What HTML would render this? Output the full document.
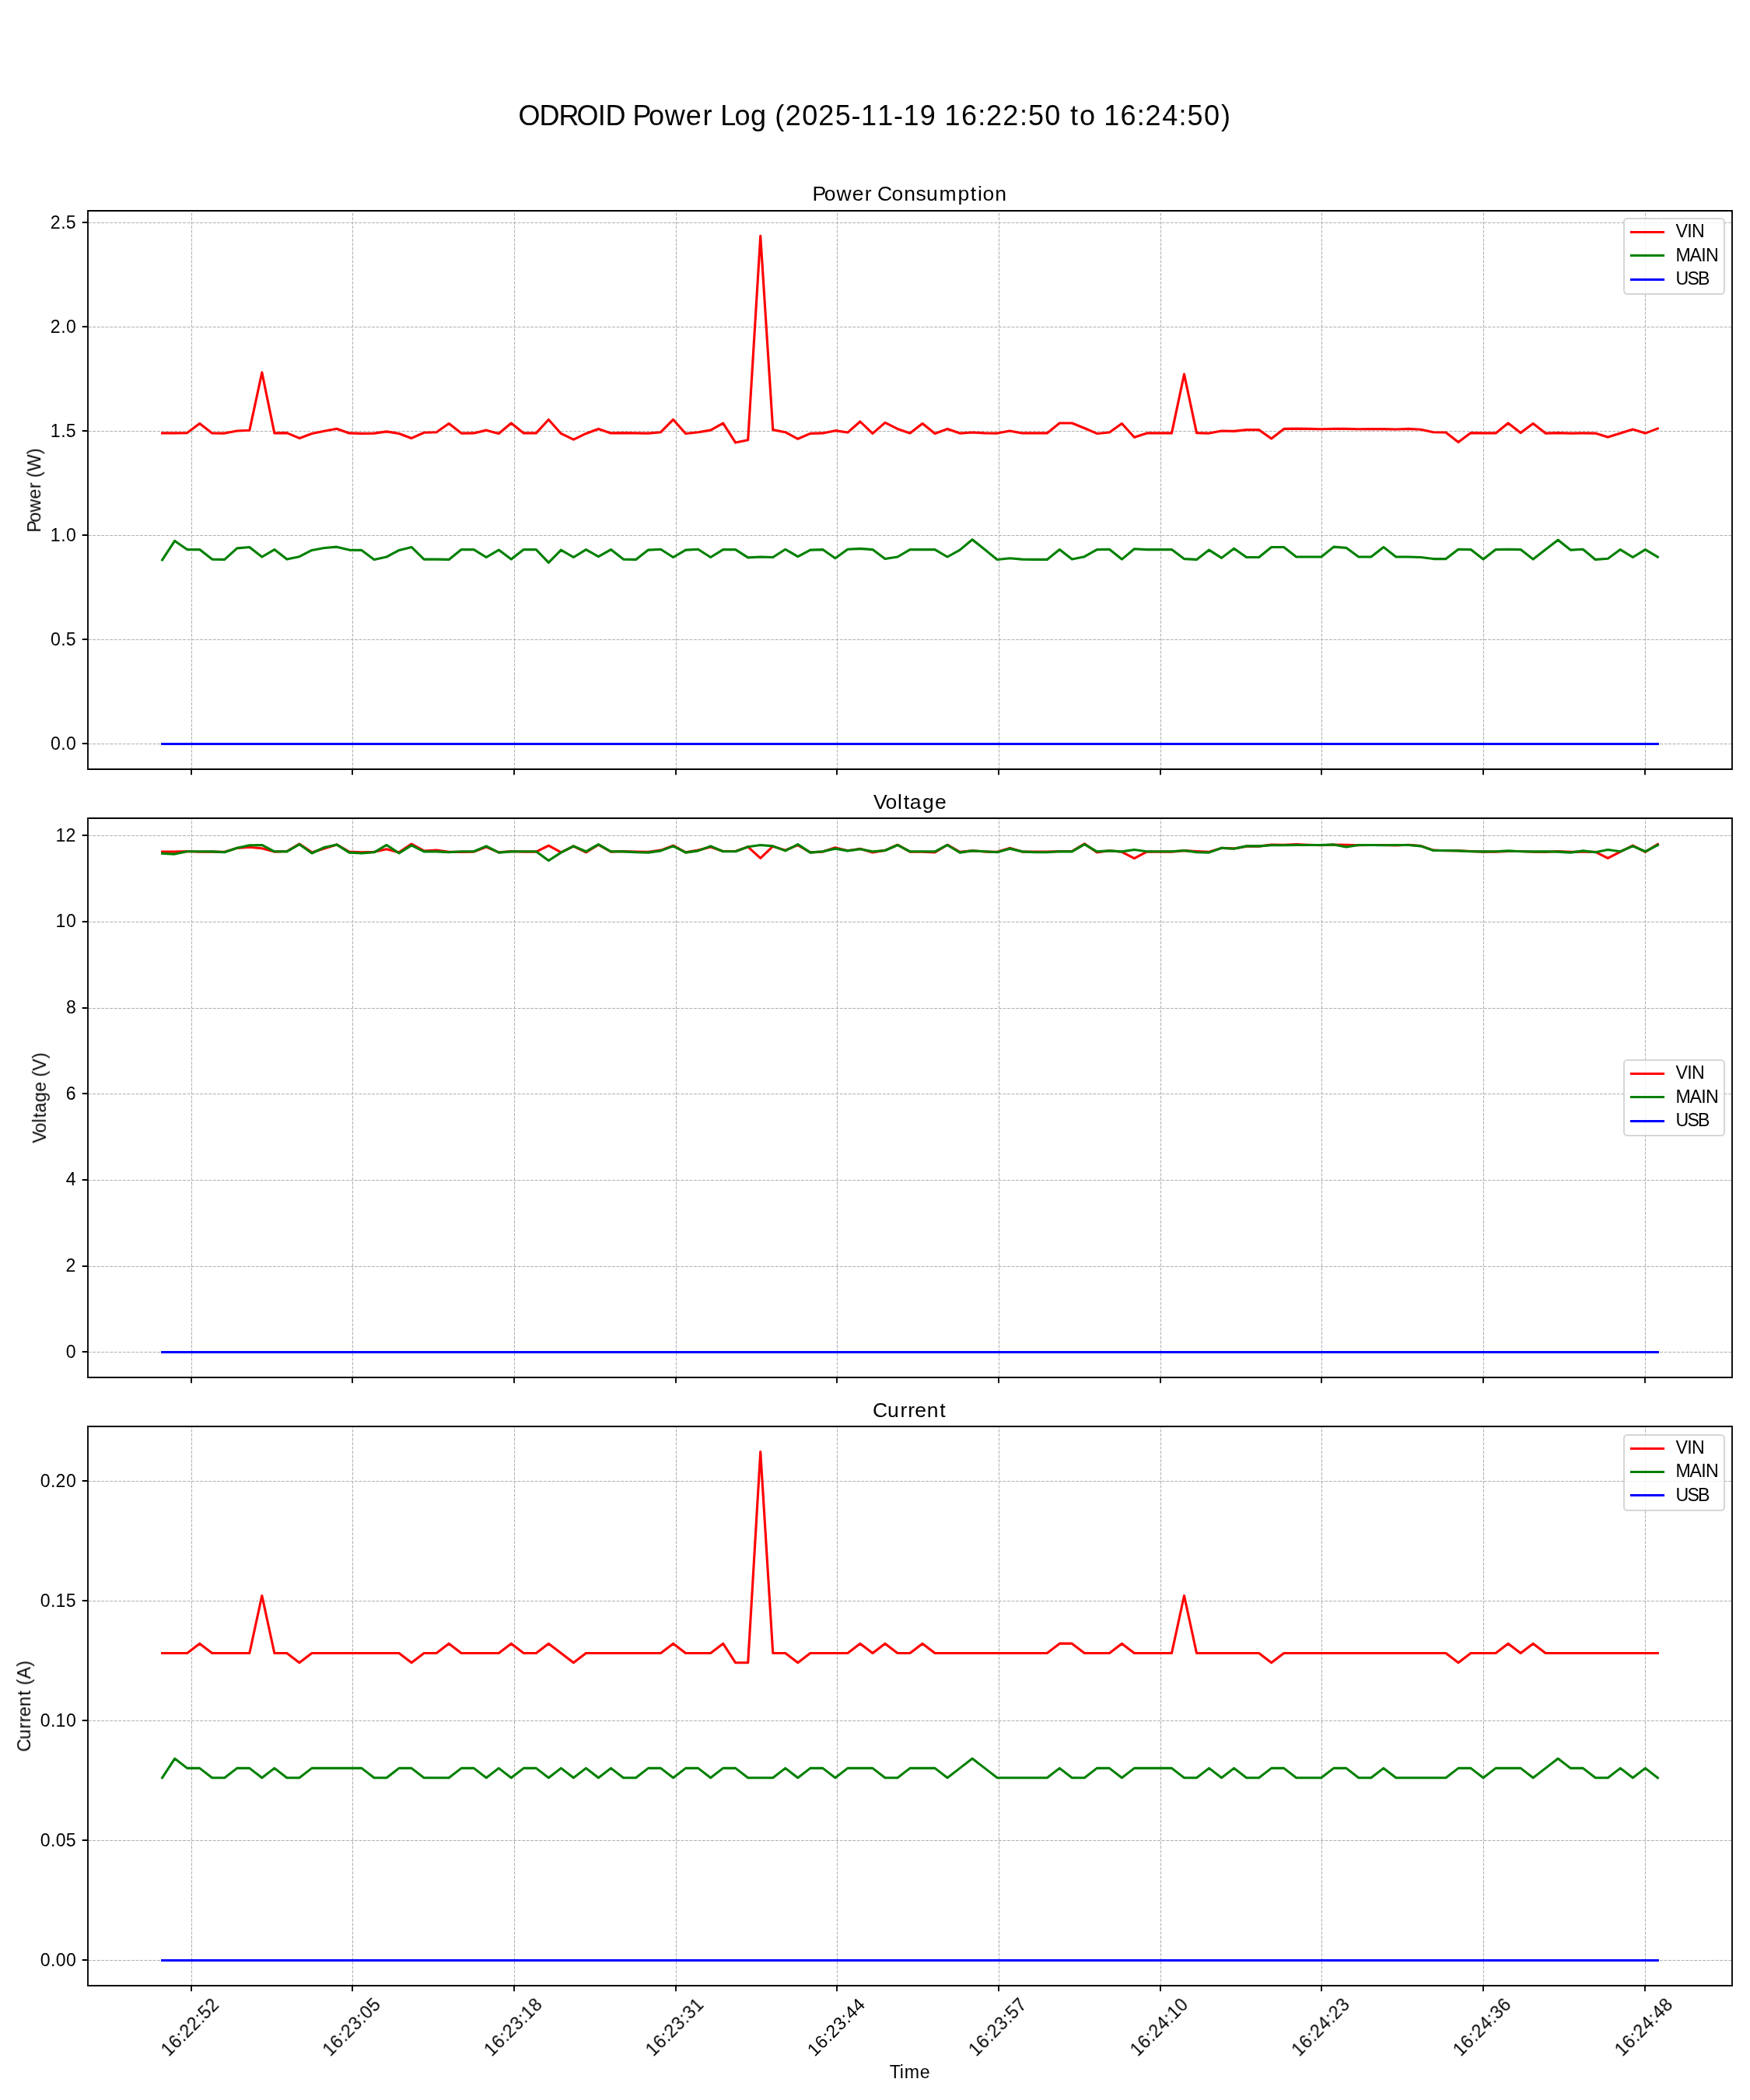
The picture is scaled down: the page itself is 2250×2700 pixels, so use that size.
<!DOCTYPE html>
<html><head><meta charset="utf-8"><title>ODROID Power Log</title>
<style>html,body{margin:0;padding:0;background:#fff}svg{display:block}text{font-family:"Liberation Sans",sans-serif;fill:#000}</style>
</head><body>
<svg width="2250" height="2700" viewBox="0 0 2250 2700">
<defs><clipPath id="c0"><rect x="113" y="271" width="2114" height="718"/></clipPath><clipPath id="c1"><rect x="113" y="1052" width="2114" height="719"/></clipPath><clipPath id="c2"><rect x="113" y="1834" width="2114" height="719"/></clipPath></defs>
<rect width="2250" height="2700" fill="#fff"/>
<g fill="none" stroke="#b0b0b0" stroke-width="1.04" stroke-dasharray="3.85 1.67"><path d="M246.5 989V271" stroke-dashoffset="0.6"/><path d="M453.5 989V271" stroke-dashoffset="0.6"/><path d="M661.5 989V271" stroke-dashoffset="0.6"/><path d="M869.5 989V271" stroke-dashoffset="0.6"/><path d="M1076.5 989V271" stroke-dashoffset="0.6"/><path d="M1284.5 989V271" stroke-dashoffset="0.6"/><path d="M1492.5 989V271" stroke-dashoffset="0.6"/><path d="M1699.5 989V271" stroke-dashoffset="0.6"/><path d="M1907.5 989V271" stroke-dashoffset="0.6"/><path d="M2115.5 989V271" stroke-dashoffset="0.6"/><path d="M113 956.5H2227" stroke-dashoffset="-0.7"/><path d="M113 822.5H2227" stroke-dashoffset="-0.7"/><path d="M113 688.5H2227" stroke-dashoffset="-0.7"/><path d="M113 554.5H2227" stroke-dashoffset="-0.7"/><path d="M113 420.5H2227" stroke-dashoffset="-0.7"/><path d="M113 286.5H2227" stroke-dashoffset="-0.7"/></g>
<g fill="none" stroke-width="3.12" stroke-linejoin="round" stroke-linecap="square" clip-path="url(#c0)"><polyline points="208.64,556.91 224.66,556.91 240.68,556.57 256.7,544.57 272.73,556.91 288.75,557.09 304.77,554 320.8,553.31 336.82,478.9 352.84,556.91 368.86,556.57 384.89,563.43 400.91,557.43 416.93,554.34 432.95,551.26 448.98,556.91 465,557.43 481.02,557.09 497.05,554.86 513.07,557.43 529.09,563.43 545.11,556.23 561.14,555.71 577.16,544.57 593.18,557.09 609.2,556.91 625.23,553.14 641.25,557.43 657.27,544.06 673.3,556.91 689.32,556.91 705.34,539.43 721.36,557.43 737.39,565.14 753.41,557.43 769.43,551.43 785.45,556.91 801.48,556.57 817.5,556.91 833.52,557.09 849.55,555.71 865.57,539.43 881.59,557.43 897.61,555.71 913.64,553.14 929.66,544.06 945.68,569.09 961.7,565.66 977.73,303.4 993.75,552.63 1009.77,555.71 1025.8,564.29 1041.82,557.43 1057.84,556.91 1073.86,553.66 1089.89,556.06 1105.91,542 1121.93,557.43 1137.95,543.37 1153.98,551.43 1170,556.91 1186.02,544.57 1202.05,557.43 1218.07,551.43 1234.09,557.09 1250.11,556.06 1266.14,556.91 1282.16,557.09 1298.18,554 1314.2,556.91 1330.23,556.91 1346.25,556.91 1362.27,544.06 1378.3,544.06 1394.32,550.57 1410.34,557.43 1426.36,556.06 1442.39,544.57 1458.41,562.23 1474.43,556.91 1490.45,556.91 1506.48,556.91 1522.5,481.1 1538.52,556.57 1554.55,557.09 1570.57,554 1586.59,554.34 1602.61,552.63 1618.64,552.63 1634.66,563.94 1650.68,551.43 1666.7,551.09 1682.73,551.43 1698.75,551.77 1714.77,551.26 1730.8,551.43 1746.82,551.77 1762.84,551.6 1778.86,551.6 1794.89,551.94 1810.91,551.43 1826.93,552.29 1842.95,555.71 1858.98,556.06 1875,568.57 1891.02,556.57 1907.05,556.91 1923.07,556.91 1939.09,544.06 1955.11,556.57 1971.14,544.57 1987.16,557.09 2003.18,556.57 2019.2,557.09 2035.23,556.91 2051.25,557.09 2067.27,562.06 2083.3,556.91 2099.32,551.94 2115.34,557.09 2131.36,550.91" stroke="#ff0000"/><polyline points="208.64,719.94 224.66,695.43 240.68,706.57 256.7,706.57 272.73,719.09 288.75,719.43 304.77,704.86 320.8,703.49 336.82,716 352.84,706.57 368.86,719.09 384.89,715.66 400.91,707.43 416.93,704.52 432.95,703.14 448.98,707.09 465,707.43 481.02,719.43 497.05,716 513.07,707.43 529.09,703.49 545.11,719.09 561.14,719.09 577.16,719.43 593.18,706.57 609.2,706.57 625.23,716.52 641.25,707.09 657.27,719.09 673.3,706.57 689.32,706.57 705.34,723.37 721.36,707.09 737.39,716.52 753.41,706.57 769.43,715.66 785.45,706.57 801.48,719.09 817.5,719.43 833.52,707.09 849.55,706.23 865.57,716.52 881.59,707.09 897.61,706.23 913.64,716.52 929.66,706.57 945.68,706.57 961.7,716.86 977.73,716 993.75,716.52 1009.77,706.23 1025.8,715.66 1041.82,707.09 1057.84,706.57 1073.86,717.72 1089.89,706.23 1105.91,705.37 1121.93,706.57 1137.95,718.57 1153.98,716 1170,706.57 1186.02,706.57 1202.05,706.57 1218.07,716 1234.09,707.09 1250.11,693.72 1266.14,706.57 1282.16,719.43 1298.18,717.72 1314.2,719.09 1330.23,719.43 1346.25,719.43 1362.27,706.57 1378.3,719.09 1394.32,715.66 1410.34,706.57 1426.36,706.23 1442.39,719.09 1458.41,705.72 1474.43,706.57 1490.45,706.57 1506.48,706.57 1522.5,718.57 1538.52,719.43 1554.55,707.09 1570.57,717.37 1586.59,705.2 1602.61,716.52 1618.64,716.52 1634.66,703.49 1650.68,703.49 1666.7,716 1682.73,716 1698.75,716 1714.77,703.14 1730.8,704.34 1746.82,716 1762.84,716 1778.86,703.49 1794.89,716 1810.91,716 1826.93,716.52 1842.95,718.57 1858.98,718.57 1875,706.23 1891.02,706.57 1907.05,719.09 1923.07,706.57 1939.09,706.23 1955.11,706.57 1971.14,719.09 1987.16,706.57 2003.18,694.23 2019.2,707.09 2035.23,706.23 2051.25,719.43 2067.27,718.23 2083.3,706.57 2099.32,716.52 2115.34,706.57 2131.36,716" stroke="#008000"/><polyline points="208.64,956.5 224.66,956.5 240.68,956.5 256.7,956.5 272.73,956.5 288.75,956.5 304.77,956.5 320.8,956.5 336.82,956.5 352.84,956.5 368.86,956.5 384.89,956.5 400.91,956.5 416.93,956.5 432.95,956.5 448.98,956.5 465,956.5 481.02,956.5 497.05,956.5 513.07,956.5 529.09,956.5 545.11,956.5 561.14,956.5 577.16,956.5 593.18,956.5 609.2,956.5 625.23,956.5 641.25,956.5 657.27,956.5 673.3,956.5 689.32,956.5 705.34,956.5 721.36,956.5 737.39,956.5 753.41,956.5 769.43,956.5 785.45,956.5 801.48,956.5 817.5,956.5 833.52,956.5 849.55,956.5 865.57,956.5 881.59,956.5 897.61,956.5 913.64,956.5 929.66,956.5 945.68,956.5 961.7,956.5 977.73,956.5 993.75,956.5 1009.77,956.5 1025.8,956.5 1041.82,956.5 1057.84,956.5 1073.86,956.5 1089.89,956.5 1105.91,956.5 1121.93,956.5 1137.95,956.5 1153.98,956.5 1170,956.5 1186.02,956.5 1202.05,956.5 1218.07,956.5 1234.09,956.5 1250.11,956.5 1266.14,956.5 1282.16,956.5 1298.18,956.5 1314.2,956.5 1330.23,956.5 1346.25,956.5 1362.27,956.5 1378.3,956.5 1394.32,956.5 1410.34,956.5 1426.36,956.5 1442.39,956.5 1458.41,956.5 1474.43,956.5 1490.45,956.5 1506.48,956.5 1522.5,956.5 1538.52,956.5 1554.55,956.5 1570.57,956.5 1586.59,956.5 1602.61,956.5 1618.64,956.5 1634.66,956.5 1650.68,956.5 1666.7,956.5 1682.73,956.5 1698.75,956.5 1714.77,956.5 1730.8,956.5 1746.82,956.5 1762.84,956.5 1778.86,956.5 1794.89,956.5 1810.91,956.5 1826.93,956.5 1842.95,956.5 1858.98,956.5 1875,956.5 1891.02,956.5 1907.05,956.5 1923.07,956.5 1939.09,956.5 1955.11,956.5 1971.14,956.5 1987.16,956.5 2003.18,956.5 2019.2,956.5 2035.23,956.5 2051.25,956.5 2067.27,956.5 2083.3,956.5 2099.32,956.5 2115.34,956.5 2131.36,956.5" stroke="#0000ff"/></g>
<path d="M113 989V271H2227V989Z" fill="none" stroke="#000" stroke-width="1.85" stroke-linecap="square" stroke-linejoin="miter"/>
<path d="M246 989V996.29M453 989V996.29M661 989V996.29M869 989V996.29M1076 989V996.29M1284 989V996.29M1492 989V996.29M1699 989V996.29M1907 989V996.29M2115 989V996.29M113 956H105.71M113 822H105.71M113 688H105.71M113 554H105.71M113 420H105.71M113 286H105.71" stroke="#000" stroke-width="1.85"/>
<rect x="2088" y="281" width="129" height="97" rx="4.17" fill="#fff" fill-opacity="0.8" stroke="#cccccc" stroke-opacity="0.8" stroke-width="2.08"/>
<path d="M2097.5 298.5H2138.5" stroke="#ff0000" stroke-width="3.12" stroke-linecap="square"/>
<path d="M2097.5 328.5H2138.5" stroke="#008000" stroke-width="3.12" stroke-linecap="square"/>
<path d="M2097.5 359.5H2138.5" stroke="#0000ff" stroke-width="3.12" stroke-linecap="square"/>
<g fill="none" stroke="#b0b0b0" stroke-width="1.04" stroke-dasharray="3.85 1.67"><path d="M246.5 1771V1052" stroke-dashoffset="0.6"/><path d="M453.5 1771V1052" stroke-dashoffset="0.6"/><path d="M661.5 1771V1052" stroke-dashoffset="0.6"/><path d="M869.5 1771V1052" stroke-dashoffset="0.6"/><path d="M1076.5 1771V1052" stroke-dashoffset="0.6"/><path d="M1284.5 1771V1052" stroke-dashoffset="0.6"/><path d="M1492.5 1771V1052" stroke-dashoffset="0.6"/><path d="M1699.5 1771V1052" stroke-dashoffset="0.6"/><path d="M1907.5 1771V1052" stroke-dashoffset="0.6"/><path d="M2115.5 1771V1052" stroke-dashoffset="0.6"/><path d="M113 1738.5H2227" stroke-dashoffset="-0.7"/><path d="M113 1628.5H2227" stroke-dashoffset="-0.7"/><path d="M113 1517.5H2227" stroke-dashoffset="-0.7"/><path d="M113 1406.5H2227" stroke-dashoffset="-0.7"/><path d="M113 1296.5H2227" stroke-dashoffset="-0.7"/><path d="M113 1185.5H2227" stroke-dashoffset="-0.7"/><path d="M113 1074.5H2227" stroke-dashoffset="-0.7"/></g>
<g fill="none" stroke-width="3.12" stroke-linejoin="round" stroke-linecap="square" clip-path="url(#c1)"><polyline points="208.64,1095.07 224.66,1095.07 240.68,1094.52 256.7,1095.28 272.73,1095.07 288.75,1095.35 304.77,1090.37 320.8,1089.26 336.82,1090.82 352.84,1095.07 368.86,1094.52 384.89,1085.13 400.91,1095.9 416.93,1090.92 432.95,1085.94 448.98,1095.07 465,1095.9 481.02,1095.35 497.05,1091.75 513.07,1095.9 529.09,1085.13 545.11,1093.96 561.14,1093.13 577.16,1095.28 593.18,1095.35 609.2,1095.07 625.23,1088.98 641.25,1095.9 657.27,1094.48 673.3,1095.07 689.32,1095.07 705.34,1087.24 721.36,1095.9 737.39,1087.99 753.41,1095.9 769.43,1086.22 785.45,1095.07 801.48,1094.52 817.5,1095.07 833.52,1095.35 849.55,1093.13 865.57,1087.24 881.59,1095.9 897.61,1093.13 913.64,1088.98 929.66,1094.48 945.68,1094.55 961.7,1088.84 977.73,1103.43 993.75,1088.15 1009.77,1093.13 1025.8,1086.56 1041.82,1095.9 1057.84,1095.07 1073.86,1089.81 1089.89,1093.69 1105.91,1091.26 1121.93,1095.9 1137.95,1093.41 1153.98,1086.22 1170,1095.07 1186.02,1095.28 1202.05,1095.9 1218.07,1086.22 1234.09,1095.35 1250.11,1093.69 1266.14,1095.07 1282.16,1095.35 1298.18,1090.37 1314.2,1095.07 1330.23,1095.07 1346.25,1095.07 1362.27,1094.48 1378.3,1094.48 1394.32,1084.83 1410.34,1095.9 1426.36,1093.69 1442.39,1095.28 1458.41,1103.65 1474.43,1095.07 1490.45,1095.07 1506.48,1095.07 1522.5,1093.81 1538.52,1094.52 1554.55,1095.35 1570.57,1090.37 1586.59,1090.92 1602.61,1088.15 1618.64,1088.15 1634.66,1085.99 1650.68,1086.22 1666.7,1085.66 1682.73,1086.22 1698.75,1086.77 1714.77,1085.94 1730.8,1086.22 1746.82,1086.77 1762.84,1086.49 1778.86,1086.49 1794.89,1087.05 1810.91,1086.22 1826.93,1087.6 1842.95,1093.13 1858.98,1093.69 1875,1093.7 1891.02,1094.52 1907.05,1095.07 1923.07,1095.07 1939.09,1094.48 1955.11,1094.52 1971.14,1095.28 1987.16,1095.35 2003.18,1094.52 2019.2,1095.35 2035.23,1095.07 2051.25,1095.35 2067.27,1103.37 2083.3,1095.07 2099.32,1087.05 2115.34,1095.35 2131.36,1085.39" stroke="#ff0000"/><polyline points="208.64,1097.19 224.66,1098.08 240.68,1094.78 256.7,1094.78 272.73,1094.86 288.75,1095.79 304.77,1090.35 320.8,1086.81 336.82,1086.47 352.84,1094.78 368.86,1094.86 384.89,1085.54 400.91,1096.99 416.93,1089.47 432.95,1085.93 448.98,1096.11 465,1096.99 481.02,1095.79 497.05,1086.47 513.07,1096.99 529.09,1086.81 545.11,1094.86 561.14,1094.86 577.16,1095.79 593.18,1094.78 609.2,1094.78 625.23,1087.87 641.25,1096.11 657.27,1094.86 673.3,1094.78 689.32,1094.78 705.34,1106.51 721.36,1096.11 737.39,1087.87 753.41,1094.78 769.43,1085.54 785.45,1094.78 801.48,1094.86 817.5,1095.79 833.52,1096.11 849.55,1093.9 865.57,1087.87 881.59,1096.11 897.61,1093.9 913.64,1087.87 929.66,1094.78 945.68,1094.78 961.7,1088.8 977.73,1086.47 993.75,1087.87 1009.77,1093.9 1025.8,1085.54 1041.82,1096.11 1057.84,1094.78 1073.86,1091.13 1089.89,1093.9 1105.91,1091.68 1121.93,1094.78 1137.95,1093.46 1153.98,1086.47 1170,1094.78 1186.02,1094.78 1202.05,1094.78 1218.07,1086.47 1234.09,1096.11 1250.11,1093.87 1266.14,1094.78 1282.16,1095.79 1298.18,1091.13 1314.2,1094.86 1330.23,1095.79 1346.25,1095.79 1362.27,1094.78 1378.3,1094.86 1394.32,1085.54 1410.34,1094.78 1426.36,1093.9 1442.39,1094.86 1458.41,1092.57 1474.43,1094.78 1490.45,1094.78 1506.48,1094.78 1522.5,1093.46 1538.52,1095.79 1554.55,1096.11 1570.57,1090.2 1586.59,1091.24 1602.61,1087.87 1618.64,1087.87 1634.66,1086.81 1650.68,1086.81 1666.7,1086.47 1682.73,1086.47 1698.75,1086.47 1714.77,1085.93 1730.8,1089.03 1746.82,1086.47 1762.84,1086.47 1778.86,1086.81 1794.89,1086.47 1810.91,1086.47 1826.93,1087.87 1842.95,1093.46 1858.98,1093.46 1875,1093.9 1891.02,1094.78 1907.05,1094.86 1923.07,1094.78 1939.09,1093.9 1955.11,1094.78 1971.14,1094.86 1987.16,1094.78 2003.18,1095.13 2019.2,1096.11 2035.23,1093.9 2051.25,1095.79 2067.27,1092.53 2083.3,1094.78 2099.32,1087.87 2115.34,1094.78 2131.36,1086.47" stroke="#008000"/><polyline points="208.64,1738.5 224.66,1738.5 240.68,1738.5 256.7,1738.5 272.73,1738.5 288.75,1738.5 304.77,1738.5 320.8,1738.5 336.82,1738.5 352.84,1738.5 368.86,1738.5 384.89,1738.5 400.91,1738.5 416.93,1738.5 432.95,1738.5 448.98,1738.5 465,1738.5 481.02,1738.5 497.05,1738.5 513.07,1738.5 529.09,1738.5 545.11,1738.5 561.14,1738.5 577.16,1738.5 593.18,1738.5 609.2,1738.5 625.23,1738.5 641.25,1738.5 657.27,1738.5 673.3,1738.5 689.32,1738.5 705.34,1738.5 721.36,1738.5 737.39,1738.5 753.41,1738.5 769.43,1738.5 785.45,1738.5 801.48,1738.5 817.5,1738.5 833.52,1738.5 849.55,1738.5 865.57,1738.5 881.59,1738.5 897.61,1738.5 913.64,1738.5 929.66,1738.5 945.68,1738.5 961.7,1738.5 977.73,1738.5 993.75,1738.5 1009.77,1738.5 1025.8,1738.5 1041.82,1738.5 1057.84,1738.5 1073.86,1738.5 1089.89,1738.5 1105.91,1738.5 1121.93,1738.5 1137.95,1738.5 1153.98,1738.5 1170,1738.5 1186.02,1738.5 1202.05,1738.5 1218.07,1738.5 1234.09,1738.5 1250.11,1738.5 1266.14,1738.5 1282.16,1738.5 1298.18,1738.5 1314.2,1738.5 1330.23,1738.5 1346.25,1738.5 1362.27,1738.5 1378.3,1738.5 1394.32,1738.5 1410.34,1738.5 1426.36,1738.5 1442.39,1738.5 1458.41,1738.5 1474.43,1738.5 1490.45,1738.5 1506.48,1738.5 1522.5,1738.5 1538.52,1738.5 1554.55,1738.5 1570.57,1738.5 1586.59,1738.5 1602.61,1738.5 1618.64,1738.5 1634.66,1738.5 1650.68,1738.5 1666.7,1738.5 1682.73,1738.5 1698.75,1738.5 1714.77,1738.5 1730.8,1738.5 1746.82,1738.5 1762.84,1738.5 1778.86,1738.5 1794.89,1738.5 1810.91,1738.5 1826.93,1738.5 1842.95,1738.5 1858.98,1738.5 1875,1738.5 1891.02,1738.5 1907.05,1738.5 1923.07,1738.5 1939.09,1738.5 1955.11,1738.5 1971.14,1738.5 1987.16,1738.5 2003.18,1738.5 2019.2,1738.5 2035.23,1738.5 2051.25,1738.5 2067.27,1738.5 2083.3,1738.5 2099.32,1738.5 2115.34,1738.5 2131.36,1738.5" stroke="#0000ff"/></g>
<path d="M113 1771V1052H2227V1771Z" fill="none" stroke="#000" stroke-width="1.85" stroke-linecap="square" stroke-linejoin="miter"/>
<path d="M246 1771V1778.29M453 1771V1778.29M661 1771V1778.29M869 1771V1778.29M1076 1771V1778.29M1284 1771V1778.29M1492 1771V1778.29M1699 1771V1778.29M1907 1771V1778.29M2115 1771V1778.29M113 1738H105.71M113 1628H105.71M113 1517H105.71M113 1406H105.71M113 1296H105.71M113 1185H105.71M113 1074H105.71" stroke="#000" stroke-width="1.85"/>
<rect x="2088" y="1363" width="129" height="97" rx="4.17" fill="#fff" fill-opacity="0.8" stroke="#cccccc" stroke-opacity="0.8" stroke-width="2.08"/>
<path d="M2097.5 1380.5H2138.5" stroke="#ff0000" stroke-width="3.12" stroke-linecap="square"/>
<path d="M2097.5 1410.5H2138.5" stroke="#008000" stroke-width="3.12" stroke-linecap="square"/>
<path d="M2097.5 1441.5H2138.5" stroke="#0000ff" stroke-width="3.12" stroke-linecap="square"/>
<g fill="none" stroke="#b0b0b0" stroke-width="1.04" stroke-dasharray="3.85 1.67"><path d="M246.5 2553V1834" stroke-dashoffset="0.6"/><path d="M453.5 2553V1834" stroke-dashoffset="0.6"/><path d="M661.5 2553V1834" stroke-dashoffset="0.6"/><path d="M869.5 2553V1834" stroke-dashoffset="0.6"/><path d="M1076.5 2553V1834" stroke-dashoffset="0.6"/><path d="M1284.5 2553V1834" stroke-dashoffset="0.6"/><path d="M1492.5 2553V1834" stroke-dashoffset="0.6"/><path d="M1699.5 2553V1834" stroke-dashoffset="0.6"/><path d="M1907.5 2553V1834" stroke-dashoffset="0.6"/><path d="M2115.5 2553V1834" stroke-dashoffset="0.6"/><path d="M113 2520.5H2227" stroke-dashoffset="-0.7"/><path d="M113 2366.5H2227" stroke-dashoffset="-0.7"/><path d="M113 2212.5H2227" stroke-dashoffset="-0.7"/><path d="M113 2058.5H2227" stroke-dashoffset="-0.7"/><path d="M113 1904.5H2227" stroke-dashoffset="-0.7"/></g>
<g fill="none" stroke-width="3.12" stroke-linejoin="round" stroke-linecap="square" clip-path="url(#c2)"><polyline points="208.64,2125.47 224.66,2125.47 240.68,2125.47 256.7,2113.14 272.73,2125.47 288.75,2125.47 304.77,2125.47 320.8,2125.47 336.82,2051.51 352.84,2125.47 368.86,2125.47 384.89,2137.79 400.91,2125.47 416.93,2125.47 432.95,2125.47 448.98,2125.47 465,2125.47 481.02,2125.47 497.05,2125.47 513.07,2125.47 529.09,2137.79 545.11,2125.47 561.14,2125.47 577.16,2113.14 593.18,2125.47 609.2,2125.47 625.23,2125.47 641.25,2125.47 657.27,2113.14 673.3,2125.47 689.32,2125.47 705.34,2113.14 721.36,2125.47 737.39,2137.79 753.41,2125.47 769.43,2125.47 785.45,2125.47 801.48,2125.47 817.5,2125.47 833.52,2125.47 849.55,2125.47 865.57,2113.14 881.59,2125.47 897.61,2125.47 913.64,2125.47 929.66,2113.14 945.68,2137.79 961.7,2137.79 977.73,1866.62 993.75,2125.47 1009.77,2125.47 1025.8,2137.79 1041.82,2125.47 1057.84,2125.47 1073.86,2125.47 1089.89,2125.47 1105.91,2113.14 1121.93,2125.47 1137.95,2113.14 1153.98,2125.47 1170,2125.47 1186.02,2113.14 1202.05,2125.47 1218.07,2125.47 1234.09,2125.47 1250.11,2125.47 1266.14,2125.47 1282.16,2125.47 1298.18,2125.47 1314.2,2125.47 1330.23,2125.47 1346.25,2125.47 1362.27,2113.14 1378.3,2113.14 1394.32,2125.47 1410.34,2125.47 1426.36,2125.47 1442.39,2113.14 1458.41,2125.47 1474.43,2125.47 1490.45,2125.47 1506.48,2125.47 1522.5,2051.51 1538.52,2125.47 1554.55,2125.47 1570.57,2125.47 1586.59,2125.47 1602.61,2125.47 1618.64,2125.47 1634.66,2137.79 1650.68,2125.47 1666.7,2125.47 1682.73,2125.47 1698.75,2125.47 1714.77,2125.47 1730.8,2125.47 1746.82,2125.47 1762.84,2125.47 1778.86,2125.47 1794.89,2125.47 1810.91,2125.47 1826.93,2125.47 1842.95,2125.47 1858.98,2125.47 1875,2137.79 1891.02,2125.47 1907.05,2125.47 1923.07,2125.47 1939.09,2113.14 1955.11,2125.47 1971.14,2113.14 1987.16,2125.47 2003.18,2125.47 2019.2,2125.47 2035.23,2125.47 2051.25,2125.47 2067.27,2125.47 2083.3,2125.47 2099.32,2125.47 2115.34,2125.47 2131.36,2125.47" stroke="#ff0000"/><polyline points="208.64,2285.71 224.66,2261.05 240.68,2273.38 256.7,2273.38 272.73,2285.71 288.75,2285.71 304.77,2273.38 320.8,2273.38 336.82,2285.71 352.84,2273.38 368.86,2285.71 384.89,2285.71 400.91,2273.38 416.93,2273.38 432.95,2273.38 448.98,2273.38 465,2273.38 481.02,2285.71 497.05,2285.71 513.07,2273.38 529.09,2273.38 545.11,2285.71 561.14,2285.71 577.16,2285.71 593.18,2273.38 609.2,2273.38 625.23,2285.71 641.25,2273.38 657.27,2285.71 673.3,2273.38 689.32,2273.38 705.34,2285.71 721.36,2273.38 737.39,2285.71 753.41,2273.38 769.43,2285.71 785.45,2273.38 801.48,2285.71 817.5,2285.71 833.52,2273.38 849.55,2273.38 865.57,2285.71 881.59,2273.38 897.61,2273.38 913.64,2285.71 929.66,2273.38 945.68,2273.38 961.7,2285.71 977.73,2285.71 993.75,2285.71 1009.77,2273.38 1025.8,2285.71 1041.82,2273.38 1057.84,2273.38 1073.86,2285.71 1089.89,2273.38 1105.91,2273.38 1121.93,2273.38 1137.95,2285.71 1153.98,2285.71 1170,2273.38 1186.02,2273.38 1202.05,2273.38 1218.07,2285.71 1234.09,2273.38 1250.11,2261.05 1266.14,2273.38 1282.16,2285.71 1298.18,2285.71 1314.2,2285.71 1330.23,2285.71 1346.25,2285.71 1362.27,2273.38 1378.3,2285.71 1394.32,2285.71 1410.34,2273.38 1426.36,2273.38 1442.39,2285.71 1458.41,2273.38 1474.43,2273.38 1490.45,2273.38 1506.48,2273.38 1522.5,2285.71 1538.52,2285.71 1554.55,2273.38 1570.57,2285.71 1586.59,2273.38 1602.61,2285.71 1618.64,2285.71 1634.66,2273.38 1650.68,2273.38 1666.7,2285.71 1682.73,2285.71 1698.75,2285.71 1714.77,2273.38 1730.8,2273.38 1746.82,2285.71 1762.84,2285.71 1778.86,2273.38 1794.89,2285.71 1810.91,2285.71 1826.93,2285.71 1842.95,2285.71 1858.98,2285.71 1875,2273.38 1891.02,2273.38 1907.05,2285.71 1923.07,2273.38 1939.09,2273.38 1955.11,2273.38 1971.14,2285.71 1987.16,2273.38 2003.18,2261.05 2019.2,2273.38 2035.23,2273.38 2051.25,2285.71 2067.27,2285.71 2083.3,2273.38 2099.32,2285.71 2115.34,2273.38 2131.36,2285.71" stroke="#008000"/><polyline points="208.64,2520.5 224.66,2520.5 240.68,2520.5 256.7,2520.5 272.73,2520.5 288.75,2520.5 304.77,2520.5 320.8,2520.5 336.82,2520.5 352.84,2520.5 368.86,2520.5 384.89,2520.5 400.91,2520.5 416.93,2520.5 432.95,2520.5 448.98,2520.5 465,2520.5 481.02,2520.5 497.05,2520.5 513.07,2520.5 529.09,2520.5 545.11,2520.5 561.14,2520.5 577.16,2520.5 593.18,2520.5 609.2,2520.5 625.23,2520.5 641.25,2520.5 657.27,2520.5 673.3,2520.5 689.32,2520.5 705.34,2520.5 721.36,2520.5 737.39,2520.5 753.41,2520.5 769.43,2520.5 785.45,2520.5 801.48,2520.5 817.5,2520.5 833.52,2520.5 849.55,2520.5 865.57,2520.5 881.59,2520.5 897.61,2520.5 913.64,2520.5 929.66,2520.5 945.68,2520.5 961.7,2520.5 977.73,2520.5 993.75,2520.5 1009.77,2520.5 1025.8,2520.5 1041.82,2520.5 1057.84,2520.5 1073.86,2520.5 1089.89,2520.5 1105.91,2520.5 1121.93,2520.5 1137.95,2520.5 1153.98,2520.5 1170,2520.5 1186.02,2520.5 1202.05,2520.5 1218.07,2520.5 1234.09,2520.5 1250.11,2520.5 1266.14,2520.5 1282.16,2520.5 1298.18,2520.5 1314.2,2520.5 1330.23,2520.5 1346.25,2520.5 1362.27,2520.5 1378.3,2520.5 1394.32,2520.5 1410.34,2520.5 1426.36,2520.5 1442.39,2520.5 1458.41,2520.5 1474.43,2520.5 1490.45,2520.5 1506.48,2520.5 1522.5,2520.5 1538.52,2520.5 1554.55,2520.5 1570.57,2520.5 1586.59,2520.5 1602.61,2520.5 1618.64,2520.5 1634.66,2520.5 1650.68,2520.5 1666.7,2520.5 1682.73,2520.5 1698.75,2520.5 1714.77,2520.5 1730.8,2520.5 1746.82,2520.5 1762.84,2520.5 1778.86,2520.5 1794.89,2520.5 1810.91,2520.5 1826.93,2520.5 1842.95,2520.5 1858.98,2520.5 1875,2520.5 1891.02,2520.5 1907.05,2520.5 1923.07,2520.5 1939.09,2520.5 1955.11,2520.5 1971.14,2520.5 1987.16,2520.5 2003.18,2520.5 2019.2,2520.5 2035.23,2520.5 2051.25,2520.5 2067.27,2520.5 2083.3,2520.5 2099.32,2520.5 2115.34,2520.5 2131.36,2520.5" stroke="#0000ff"/></g>
<path d="M113 2553V1834H2227V2553Z" fill="none" stroke="#000" stroke-width="1.85" stroke-linecap="square" stroke-linejoin="miter"/>
<path d="M246 2553V2560.29M453 2553V2560.29M661 2553V2560.29M869 2553V2560.29M1076 2553V2560.29M1284 2553V2560.29M1492 2553V2560.29M1699 2553V2560.29M1907 2553V2560.29M2115 2553V2560.29M113 2520H105.71M113 2366H105.71M113 2212H105.71M113 2058H105.71M113 1904H105.71" stroke="#000" stroke-width="1.85"/>
<rect x="2088" y="1845" width="129" height="97" rx="4.17" fill="#fff" fill-opacity="0.8" stroke="#cccccc" stroke-opacity="0.8" stroke-width="2.08"/>
<path d="M2097.5 1862.5H2138.5" stroke="#ff0000" stroke-width="3.12" stroke-linecap="square"/>
<path d="M2097.5 1892.5H2138.5" stroke="#008000" stroke-width="3.12" stroke-linecap="square"/>
<path d="M2097.5 1922.5H2138.5" stroke="#0000ff" stroke-width="3.12" stroke-linecap="square"/>
<g opacity="0.999"><text x="64.98 78.16 84.9" y="964" font-size="23.13">0.0</text>
<text x="64.98 78.16 84.82" y="830" font-size="23.13">0.5</text>
<text x="64.86 78.16 84.9" y="696" font-size="23.13">1.0</text>
<text x="64.86 78.16 84.82" y="562" font-size="23.13">1.5</text>
<text x="64.71 78.16 84.9" y="428" font-size="23.13">2.0</text>
<text x="64.71 78.16 84.82" y="294" font-size="23.13">2.5</text>
<text x="51.36 64.24 77.23 94.16 107.79 115.67 121.83 129.73 151.79" y="683.31" font-size="23.13" transform="rotate(-90 52.46 683.31)">Power (W)</text>
<text x="1044.42 1059.8 1075.45 1095.63 1111.84 1121.21 1127.88 1146.6 1162.22 1177.52 1190.98 1207.53 1231.4 1247.7 1256.89 1263.58 1279.2" y="258" font-size="26.5">Power Consumption</text>
<text x="2154.53 2169.26 2175" y="305" font-size="23.13">VIN</text>
<text x="2154.49 2172.54 2187.28 2193.01" y="336" font-size="23.13">MAIN</text>
<text x="2154.4 2169.42 2183.04" y="366" font-size="23.13">USB</text>
<text x="84.86" y="1746" font-size="23.13">0</text>
<text x="84.58" y="1635" font-size="23.13">2</text>
<text x="84.86" y="1524" font-size="23.13">4</text>
<text x="84.73" y="1414" font-size="23.13">6</text>
<text x="84.98" y="1303" font-size="23.13">8</text>
<text x="71.48 84.89" y="1192" font-size="23.13">10</text>
<text x="71.48 84.62" y="1082" font-size="23.13">12</text>
<text x="58.49 71.69 84.83 91.12 97.64 111.36 124.56 137.48 143.64 151.57 167.24" y="1469.19" font-size="23.13" transform="rotate(-90 59.08 1469.19)">Voltage (V)</text>
<text x="1122.89 1138.57 1154.11 1161.68 1169.68 1186.07 1201.89" y="1040" font-size="26.5">Voltage</text>
<text x="2154.53 2169.26 2175" y="1387" font-size="23.13">VIN</text>
<text x="2154.49 2172.54 2187.28 2193.01" y="1418" font-size="23.13">MAIN</text>
<text x="2154.4 2169.42 2183.04" y="1448" font-size="23.13">USB</text>
<text x="217.01 230.42 243.82 250.46 263.74 277.41 284.25 297.34" y="2645.1" font-size="23.13" transform="rotate(-45 216.95 2645.1)">16:22:52</text>
<text x="424.67 438.08 451.47 458.12 471.71 485.07 491.99 505.19" y="2645.1" font-size="23.13" transform="rotate(-45 424.6 2645.1)">16:23:05</text>
<text x="632.37 645.77 659.17 665.82 679.4 692.76 699.56 712.97" y="2645.01" font-size="23.13" transform="rotate(-45 632.3 2645.01)">16:23:18</text>
<text x="839.98 853.38 866.78 873.43 887.01 900.37 907.33 920.45" y="2645.1" font-size="23.13" transform="rotate(-45 839.91 2645.1)">16:23:31</text>
<text x="1047.63 1061.04 1074.43 1081.08 1094.67 1108.03 1114.95 1128.24" y="2645.1" font-size="23.13" transform="rotate(-45 1047.57 2645.1)">16:23:44</text>
<text x="1255.29 1268.69 1282.09 1288.74 1302.32 1315.68 1322.53 1335.85" y="2645.1" font-size="23.13" transform="rotate(-45 1255.22 2645.1)">16:23:57</text>
<text x="1462.94 1476.35 1489.74 1496.39 1509.95 1523.34 1530.13 1543.54" y="2645.1" font-size="23.13" transform="rotate(-45 1462.88 2645.1)">16:24:10</text>
<text x="1670.6 1684 1697.4 1704.04 1717.6 1730.99 1737.64 1751.23" y="2645.1" font-size="23.13" transform="rotate(-45 1670.53 2645.1)">16:24:23</text>
<text x="1878.21 1891.61 1905.01 1911.66 1925.21 1938.6 1945.56 1958.8" y="2645.19" font-size="23.13" transform="rotate(-45 1878.14 2645.19)">16:24:36</text>
<text x="2085.95 2099.36 2112.75 2119.4 2132.96 2146.35 2153.27 2166.55" y="2645.01" font-size="23.13" transform="rotate(-45 2085.89 2645.01)">16:24:48</text>
<text x="1143.68 1156.84 1162.87 1182.66" y="2672" font-size="23.13">Time</text>
<text x="51.73 64.91 71.65 84.93" y="2528" font-size="23.13">0.00</text>
<text x="51.73 64.91 71.65 84.85" y="2374" font-size="23.13">0.05</text>
<text x="51.73 64.91 71.52 84.93" y="2220" font-size="23.13">0.10</text>
<text x="51.73 64.91 71.52 84.85" y="2066" font-size="23.13">0.15</text>
<text x="51.73 64.91 71.38 84.93" y="1912" font-size="23.13">0.20</text>
<text x="38.01 53.91 67.82 76.02 83.33 96.36 110.19 117.66 123.82 131.75 147.42" y="2251.12" font-size="23.13" transform="rotate(-90 39.21 2251.12)">Current (A)</text>
<text x="1122.02 1140.96 1157.5 1167.28 1176.23 1191.85 1208.24" y="1822" font-size="26.5">Current</text>
<text x="2154.53 2169.26 2175" y="1869" font-size="23.13">VIN</text>
<text x="2154.49 2172.54 2187.28 2193.01" y="1899" font-size="23.13">MAIN</text>
<text x="2154.4 2169.42 2183.04" y="1930" font-size="23.13">USB</text>
<text x="666.44 693.45 718.38 741.6 768.66 778.45 804.58 813.48 833.96 854.8 881.8 903.49 916.04 926.29 944.51 965.12 986.22 996.13 1009.7 1031.37 1052.17 1073.71 1094.51 1106.93 1128.16 1149.02 1161.44 1182.76 1203.81 1214.51 1235.94 1257.21 1267.98 1289.21 1310.92 1322 1343.37 1364.31 1376.07 1387.9 1408.43 1419.13 1440.56 1461.83 1472.6 1494.27 1515.54 1526.62 1547.98 1570.05" y="161" font-size="36">ODROID Power Log (2025-11-19 16:22:50 to 16:24:50)</text></g>
</svg>
</body></html>
